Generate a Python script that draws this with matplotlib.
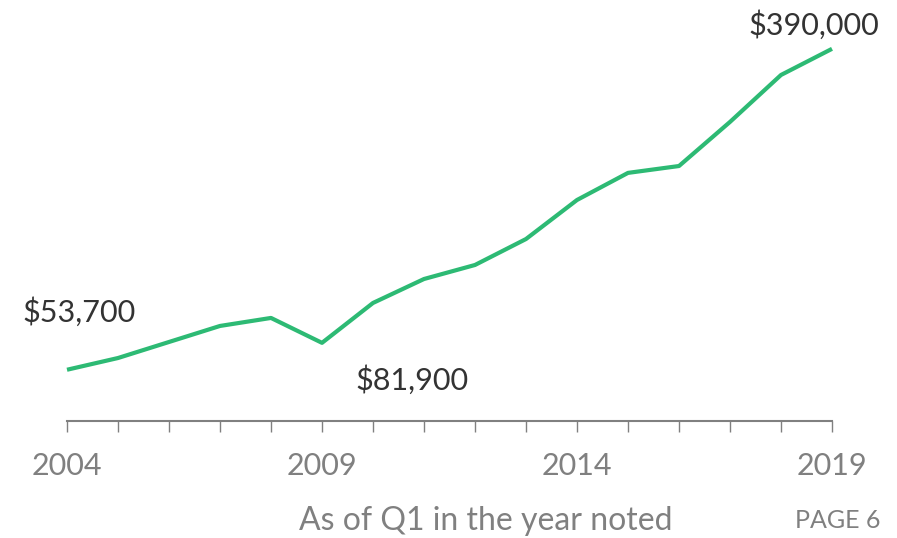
import numpy as np
import matplotlib
matplotlib.use('Agg')
import matplotlib.pyplot as plt

plt.rcParams['font.family'] = ['Lato', 'DejaVu Sans']

# median values, as of Q1 in each year
years = np.arange(2004, 2020)
values = [53700, 66000, 82800, 99600, 108000, 81900, 123700, 148800,
          163500, 190700, 231600, 260000, 267200, 313400, 362600, 390000]
tick_years = [2004, 2009, 2014, 2019]

green = '#2dba74'
grey = '#808080'
dark = '#333333'

fig = plt.figure(figsize=(8.97, 5.38), dpi=100)
ax = fig.add_axes([67/897, 117/538, 765/897, 400.8/538])

ax.plot(years, values, color=green, lw=3, solid_capstyle='butt', clip_on=False)

ax.set_xlim(2004, 2019)
ax.set_ylim(0, 420000)

for s in ['top', 'right', 'left']:
    ax.spines[s].set_visible(False)
ax.spines['bottom'].set_color(grey)
ax.spines['bottom'].set_linewidth(1.5)

ax.set_yticks([])
ax.set_xticks(years)
ax.set_xticklabels([str(y) if y in tick_years else '' for y in years])
ax.tick_params(axis='x', direction='out', length=8, width=1, color=grey,
               labelcolor=grey, labelsize=22, pad=14)

# value callouts (offsets in points, dpi 100)
ax.annotate('$53,700', (years[0], values[0]), xytext=(-32.4, 41.8),
            textcoords='offset points', fontsize=22, color=dark,
            ha='left', va='center')
ax.annotate('$81,900', (years[5], values[5]), xytext=(23.8, -26.6),
            textcoords='offset points', fontsize=22, color=dark,
            ha='left', va='center')
ax.annotate('$390,000', (years[-1], values[-1]), xytext=(-60.5, 17.3),
            textcoords='offset points', fontsize=22, color=dark,
            ha='left', va='center')

fig.text(486/897, 1 - 521/538, 'As of Q1 in the year noted', fontsize=23,
         color=grey, ha='center', va='center')
fig.text(880/897, 1 - 521/538, 'PAGE 6', fontsize=18, color=grey,
         ha='right', va='center')

fig.savefig('out.png', dpi=100)
